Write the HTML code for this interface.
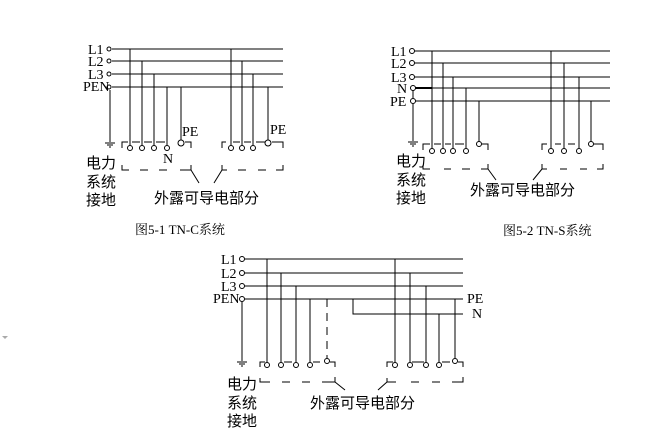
<!DOCTYPE html>
<html><head><meta charset="utf-8"><style>
html,body{margin:0;padding:0;background:#fff;width:652px;height:437px;overflow:hidden}
svg{display:block}
.l{font-family:"Liberation Serif",serif;font-size:14px;fill:#000}
.c{font-family:"Liberation Sans","Noto Sans CJK SC",sans-serif;font-size:15px;fill:#000}
.cap{font-family:"Liberation Serif","Noto Serif CJK SC",serif;font-size:13px;fill:#000}
</style></head><body>
<svg width="652" height="437" viewBox="0 0 652 437" xmlns="http://www.w3.org/2000/svg">
<g stroke="#000" stroke-width="1" fill="none">
<line x1="112" y1="49" x2="283" y2="49"/><line x1="112" y1="61" x2="283" y2="61"/>
<line x1="112" y1="74" x2="283" y2="74"/><line x1="112" y1="87" x2="283" y2="87"/>
<line x1="110" y1="90" x2="110" y2="142"/>
<line x1="105" y1="143" x2="115" y2="143"/><line x1="107" y1="145" x2="113" y2="145"/><line x1="109" y1="147" x2="111" y2="147"/>
<line x1="130" y1="49" x2="130" y2="145"/><line x1="142" y1="61" x2="142" y2="145"/>
<line x1="154" y1="74" x2="154" y2="145"/><line x1="167" y1="87" x2="167" y2="145"/>
<line x1="181" y1="87" x2="181" y2="140"/>
<line x1="231" y1="49" x2="231" y2="145"/><line x1="242" y1="61" x2="242" y2="145"/>
<line x1="253" y1="74" x2="253" y2="145"/><line x1="268" y1="87" x2="268" y2="140"/>
<circle cx="130" cy="148" r="2.5"/><circle cx="142" cy="148" r="2.5"/><circle cx="154" cy="148" r="2.5"/><circle cx="167" cy="148" r="2.5"/><circle cx="181" cy="143" r="3"/>
<circle cx="231" cy="148" r="2.5"/><circle cx="242" cy="148" r="2.5"/><circle cx="253" cy="148" r="2.5"/><circle cx="268" cy="143" r="3"/>
<circle cx="109" cy="49" r="2"/><circle cx="109" cy="61" r="2"/><circle cx="109" cy="74" r="2"/><circle cx="109" cy="87" r="2"/>
<polyline points="122,148 122,142 128,142"/><line x1="132" y1="142" x2="140" y2="142"/><line x1="144" y1="142" x2="152" y2="142"/><line x1="156" y1="142" x2="165" y2="142"/><polyline points="185,142 191,142 191,148"/>
<polyline points="122,165 122,170 129,170"/><line x1="140" y1="170" x2="148" y2="170"/><line x1="159" y1="170" x2="167" y2="170"/><polyline points="180,170 191,170 191,165"/>
<line x1="191" y1="170" x2="199" y2="183"/><line x1="222" y1="170" x2="214" y2="183"/>
<polyline points="222,148 222,142 226,142"/><line x1="233" y1="142" x2="240" y2="142"/><line x1="244" y1="142" x2="251" y2="142"/><line x1="256" y1="142" x2="265" y2="142"/><polyline points="272,142 283,142 283,148"/>
<polyline points="222,165 222,170 227,170"/><line x1="238" y1="170" x2="246" y2="170"/><line x1="258" y1="170" x2="266" y2="170"/><polyline points="276,170 283,170 283,165"/>
<line x1="415" y1="51" x2="610" y2="51"/><line x1="415" y1="63" x2="610" y2="63"/>
<line x1="415" y1="77" x2="610" y2="77"/><line x1="415" y1="88" x2="610" y2="88"/><line x1="415" y1="101" x2="610" y2="101"/>
<line x1="415" y1="88" x2="432" y2="88" stroke-width="2"/>
<line x1="413" y1="90" x2="413" y2="98"/><line x1="413" y1="104" x2="413" y2="141"/>
<line x1="408" y1="142" x2="418" y2="142"/><line x1="410" y1="144" x2="416" y2="144"/><line x1="412" y1="146" x2="414" y2="146"/>
<circle cx="412" cy="51" r="2.5"/><circle cx="412" cy="63" r="2.5"/><circle cx="412" cy="77" r="2.5"/><circle cx="413" cy="88" r="2.5"/><circle cx="413" cy="101" r="2.5"/>
<line x1="432" y1="51" x2="432" y2="148"/><line x1="443" y1="63" x2="443" y2="148"/><line x1="453" y1="77" x2="453" y2="148"/><line x1="466" y1="88" x2="466" y2="148"/><line x1="479" y1="101" x2="479" y2="142"/>
<line x1="551" y1="51" x2="551" y2="148"/><line x1="564" y1="63" x2="564" y2="148"/><line x1="579" y1="77" x2="579" y2="148"/><line x1="591" y1="101" x2="591" y2="142"/>
<circle cx="432" cy="151" r="2.5"/><circle cx="443" cy="151" r="2.5"/><circle cx="453" cy="151" r="2.5"/><circle cx="466" cy="151" r="2.5"/><circle cx="479" cy="144" r="2.5"/>
<circle cx="551" cy="151" r="2.5"/><circle cx="564" cy="151" r="2.5"/><circle cx="579" cy="151" r="2.5"/><circle cx="591" cy="144" r="2.5"/>
<polyline points="423,150 423,144 430,144"/><line x1="434" y1="144" x2="441" y2="144"/><line x1="445" y1="144" x2="451" y2="144"/><line x1="455" y1="144" x2="464" y2="144"/><polyline points="482,144 488,144 488,150"/>
<polyline points="423,165 423,169 430,169"/><line x1="444" y1="169" x2="451" y2="169"/><line x1="462" y1="169" x2="470" y2="169"/><polyline points="481,169 488,169 488,164"/>
<line x1="488" y1="169" x2="496" y2="180"/><line x1="542" y1="169" x2="533" y2="180"/>
<polyline points="542,150 542,144 547,144"/><line x1="555" y1="144" x2="561" y2="144"/><line x1="568" y1="144" x2="575" y2="144"/><polyline points="594,144 603,144 603,150"/>
<polyline points="542,164 542,169 547,169"/><line x1="560" y1="169" x2="567" y2="169"/><line x1="580" y1="169" x2="587" y2="169"/><polyline points="597,169 603,169 603,164"/>
<line x1="245" y1="259" x2="463" y2="259"/><line x1="245" y1="273" x2="463" y2="273"/>
<line x1="245" y1="286" x2="463" y2="286"/><line x1="245" y1="299" x2="463" y2="299"/>
<polyline points="353,299 353,314 463,314"/>
<circle cx="242" cy="259" r="2.5"/><circle cx="242" cy="273" r="2.5"/><circle cx="242" cy="286" r="2.5"/><circle cx="242" cy="299" r="2.5"/>
<line x1="242" y1="302" x2="242" y2="361"/>
<line x1="237" y1="362" x2="247" y2="362"/><line x1="239" y1="364" x2="245" y2="364"/><line x1="241" y1="366" x2="243" y2="366"/>
<line x1="267" y1="259" x2="267" y2="362"/><line x1="281" y1="273" x2="281" y2="362"/><line x1="296" y1="286" x2="296" y2="362"/><line x1="310" y1="299" x2="310" y2="362"/>
<line x1="327" y1="299" x2="327" y2="358" stroke-dasharray="8,6"/>
<line x1="395" y1="259" x2="395" y2="362"/><line x1="410" y1="273" x2="410" y2="362"/><line x1="426" y1="286" x2="426" y2="362"/><line x1="439" y1="314" x2="439" y2="362"/><line x1="455" y1="299" x2="455" y2="358"/>
<circle cx="267" cy="365" r="2.5"/><circle cx="281" cy="365" r="2.5"/><circle cx="296" cy="365" r="2.5"/><circle cx="310" cy="365" r="2.5"/><circle cx="327" cy="361" r="2.5"/>
<circle cx="395" cy="365" r="2.5"/><circle cx="410" cy="365" r="2.5"/><circle cx="426" cy="365" r="2.5"/><circle cx="439" cy="365" r="2.5"/><circle cx="455" cy="361" r="2.5"/>
<polyline points="260,367 260,362 265,362"/><line x1="284" y1="362" x2="292" y2="362"/><line x1="313" y1="362" x2="320" y2="362"/><polyline points="330,362 335,362 335,367"/>
<polyline points="260,378 260,382 270,382"/><line x1="282" y1="382" x2="290" y2="382"/><line x1="302" y1="382" x2="310" y2="382"/><polyline points="322,382 335,382 335,377"/>
<line x1="335" y1="382" x2="345" y2="390"/><line x1="387" y1="382" x2="378" y2="390"/>
<polyline points="387,367 387,362 393,362"/><line x1="412" y1="362" x2="424" y2="362"/><line x1="442" y1="362" x2="450" y2="362"/><polyline points="458,362 463,362 463,367"/>
<polyline points="387,378 387,382 396,382"/><line x1="411" y1="382" x2="419" y2="382"/><line x1="432" y1="382" x2="440" y2="382"/><polyline points="452,382 463,382 463,377"/>
</g>
<polygon points="2,336 8,336 5,339" fill="#aaa"/>
<text class="l" x="88" y="54">L1</text><text class="l" x="88" y="66">L2</text><text class="l" x="88" y="79">L3</text><text class="l" x="83" y="91" font-size="12">PEN</text>
<text class="l" x="182" y="136">PE</text><text class="l" x="270" y="134">PE</text><text class="l" x="163" y="163">N</text>
<text class="c" x="86" y="168">电力</text><text class="c" x="86" y="187">系统</text><text class="c" x="86" y="205">接地</text>
<text class="c" x="154" y="203">外露可导电部分</text>
<text class="cap" x="135" y="234">图5-1 TN-C系统</text>
<text class="l" x="391" y="56">L1</text><text class="l" x="391" y="68">L2</text><text class="l" x="391" y="82">L3</text><text class="l" x="397" y="93" font-size="12">N</text><text class="l" x="390" y="106" font-size="12">PE</text>
<text class="c" x="396" y="166">电力</text><text class="c" x="396" y="185">系统</text><text class="c" x="396" y="203">接地</text>
<text class="c" x="470" y="195">外露可导电部分</text>
<text class="cap" x="503" y="235">图5-2 TN-S系统</text>
<text class="l" x="221" y="264">L1</text><text class="l" x="221" y="278">L2</text><text class="l" x="221" y="291">L3</text><text class="l" x="213" y="303" font-size="12">PEN</text>
<text class="l" x="467" y="303" font-size="13">PE</text><text class="l" x="472" y="318" font-size="13">N</text>
<text class="c" x="227" y="389">电力</text><text class="c" x="227" y="408">系统</text><text class="c" x="227" y="426">接地</text>
<text class="c" x="310" y="408">外露可导电部分</text>
</svg>
</body></html>
